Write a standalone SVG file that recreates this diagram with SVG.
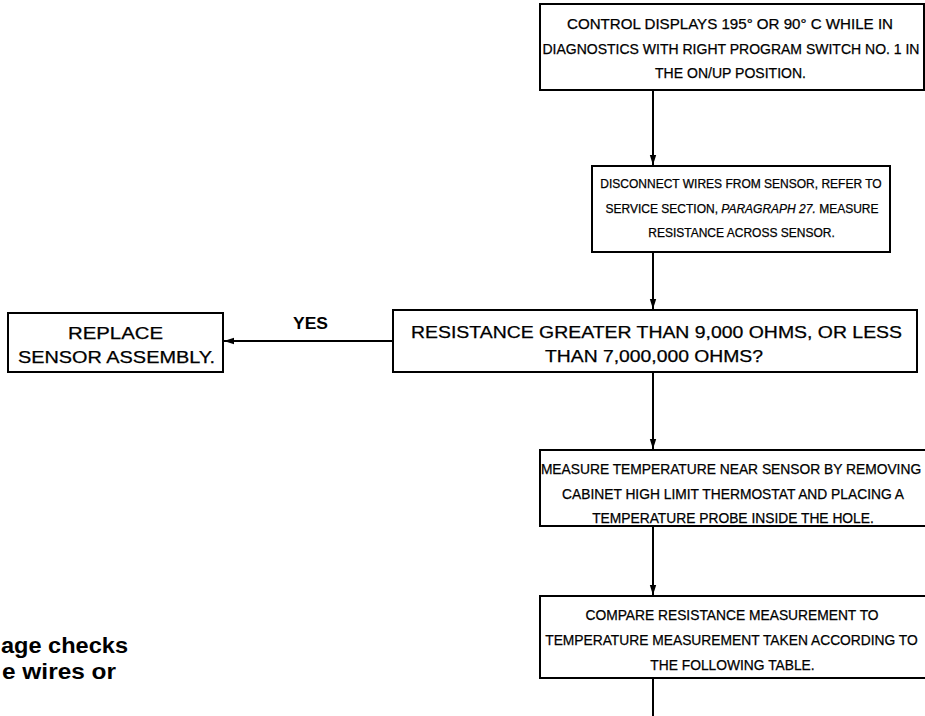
<svg xmlns="http://www.w3.org/2000/svg" width="925" height="716" viewBox="0 0 925 716">
<style>
.box{fill:#fff;stroke:#000;stroke-width:2}
.t{font-family:"Liberation Sans",Arial,sans-serif;font-size:14px;fill:#000;stroke:#000;stroke-width:0.25;text-anchor:middle}
.s{font-size:12px}
.m{font-size:13.8px}
.l{font-size:16px}
.c{stroke:#000;stroke-width:2;fill:none}
.b{font-family:"Liberation Sans",Arial,sans-serif;font-weight:bold;fill:#000}
</style>
<defs>
<marker id="ah" viewBox="0 0 10 10" refX="10" refY="5" markerWidth="5" markerHeight="5" orient="auto" markerUnits="strokeWidth">
<path d="M0,1.8 L10,5 L0,8.2 Z" fill="#000"/>
</marker>
</defs>
<rect width="925" height="716" fill="#fff"/>
<g id="connectors">
<line class="c" x1="653" y1="90" x2="653" y2="165" marker-end="url(#ah)"/>
<line class="c" x1="653" y1="252" x2="653" y2="309" marker-end="url(#ah)"/>
<line class="c" x1="393" y1="341" x2="224" y2="341" marker-end="url(#ah)"/>
<line class="c" x1="653" y1="372" x2="653" y2="449" marker-end="url(#ah)"/>
<line class="c" x1="653" y1="526" x2="653" y2="595" marker-end="url(#ah)"/>
<line class="c" x1="653" y1="678" x2="653" y2="716"/>
<text class="b" x="310.5" y="329" font-size="17" text-anchor="middle" textLength="35" lengthAdjust="spacingAndGlyphs">YES</text>
</g>
<g id="n1">
<rect class="box" x="540" y="4" width="384" height="86"/>
<text class="t" x="730" y="29" textLength="326" lengthAdjust="spacingAndGlyphs">CONTROL DISPLAYS 195° OR 90° C WHILE IN</text>
<text class="t" x="731" y="54">DIAGNOSTICS WITH RIGHT PROGRAM SWITCH NO. 1 IN</text>
<text class="t" x="730.5" y="78" textLength="151" lengthAdjust="spacingAndGlyphs">THE ON/UP POSITION.</text>
</g>
<g id="n2">
<rect class="box" x="592" y="166" width="298" height="86"/>
<text class="t s" x="741" y="188">DISCONNECT WIRES FROM SENSOR, REFER TO</text>
<text class="t s" x="742" y="213">SERVICE SECTION, <tspan font-style="italic">PARAGRAPH 27.</tspan> MEASURE</text>
<text class="t s" x="741.5" y="237">RESISTANCE ACROSS SENSOR.</text>
</g>
<g id="n3">
<rect class="box" x="393" y="310" width="524" height="62"/>
<text class="t l" x="656.5" y="338" textLength="491" lengthAdjust="spacingAndGlyphs">RESISTANCE GREATER THAN 9,000 OHMS, OR LESS</text>
<text class="t l" x="654" y="362" textLength="218" lengthAdjust="spacingAndGlyphs">THAN 7,000,000 OHMS?</text>
</g>
<g id="n4">
<rect class="box" x="8" y="313" width="215" height="59"/>
<text class="t l" x="115.5" y="339" textLength="95" lengthAdjust="spacingAndGlyphs">REPLACE</text>
<text class="t l" x="116.5" y="363" textLength="197" lengthAdjust="spacingAndGlyphs">SENSOR ASSEMBLY.</text>
</g>
<g id="n5">
<rect class="box" x="540" y="450" width="386" height="76"/>
<text class="t m" x="731" y="474">MEASURE TEMPERATURE NEAR SENSOR BY REMOVING</text>
<text class="t m" x="733" y="499">CABINET HIGH LIMIT THERMOSTAT AND PLACING A</text>
<text class="t m" x="733" y="523">TEMPERATURE PROBE INSIDE THE HOLE.</text>
</g>
<g id="n6">
<rect class="box" x="540" y="596" width="386" height="82"/>
<text class="t m" x="732" y="620">COMPARE RESISTANCE MEASUREMENT TO</text>
<text class="t m" x="731.5" y="645">TEMPERATURE MEASUREMENT TAKEN ACCORDING TO</text>
<text class="t m" x="732.5" y="670">THE FOLLOWING TABLE.</text>
</g>
<g id="note">
<text class="b" x="1" y="653" font-size="22" textLength="127" lengthAdjust="spacingAndGlyphs">age checks</text>
<text class="b" x="2" y="679" font-size="22" textLength="114" lengthAdjust="spacingAndGlyphs">e wires or</text>
</g>
</svg>
